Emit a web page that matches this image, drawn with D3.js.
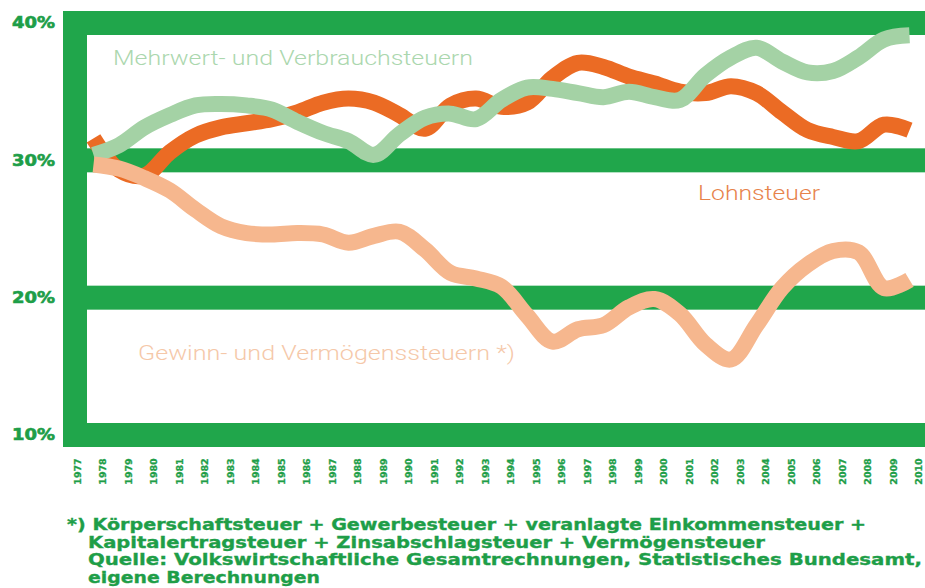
<!DOCTYPE html>
<html>
<head>
<meta charset="utf-8">
<script src="https://cdn.jsdelivr.net/npm/d3@7"></script>
<style>
  body { margin: 0; background: #fff; }
  svg { display: block; }
</style>
</head>
<body>
<svg id="chart" width="925" height="588"></svg>
<script>
// jahre und werte (anteil am steueraufkommen, %)
const years = d3.range(1977, 2011);
const lineYears = d3.range(1978, 2011);

const lohnsteuer = [31.6, 29.3, 28.9, 30.6, 31.8, 32.4, 32.7, 33.0, 33.5, 34.2, 34.5, 34.2, 33.3, 32.3, 34.0,
    34.5, 33.9, 34.2, 36.0, 37.1, 36.8, 36.1, 35.6, 35.0, 34.9, 35.4, 34.9, 33.5, 32.2, 31.7, 31.4, 32.6, 32.2];

const mehrwert = [30.4, 31.1, 32.4, 33.3, 34.0, 34.1, 34.0, 33.7, 32.8, 32.0, 31.4, 30.4, 31.9, 33.1, 33.4,
    33.0, 34.4, 35.3, 35.2, 34.9, 34.6, 35.0, 34.6, 34.4, 36.2, 37.5, 38.2, 37.2, 36.4, 36.5, 37.5, 38.8, 39.1];

const gewinn = [29.7, 29.4, 28.7, 27.8, 26.4, 25.2, 24.7, 24.6, 24.7, 24.6, 24.0, 24.5, 24.8, 23.5, 21.8,
    21.4, 20.8, 18.7, 16.8, 17.7, 18.0, 19.3, 19.9, 18.8, 16.6, 15.5, 18.0, 20.7, 22.4, 23.4, 23.3, 20.7, 21.3];

const yTicks = [10, 20, 30, 40];

const series = [
    { name: "Lohnsteuer", values: lohnsteuer, color: "#eb6b24" },
    { name: "Mehrwert- und Verbrauchsteuern", values: mehrwert, color: "#a4d2a5" },
    { name: "Gewinn- und Vermögenssteuern *)", values: gewinn, color: "#f6b78e" }
];

const footnote = [
    "*) Körperschaftsteuer + Gewerbesteuer + veranlagte Einkommensteuer +",
    "Kapitalertragsteuer + Zinsabschlagsteuer + Vermögensteuer",
    "Quelle: Volkswirtschaftliche Gesamtrechnungen, Statistisches Bundesamt,",
    "eigene Berechnungen"
];

const frameGreen = "#20a64b";
const textGreen = "#1e9e48";

const svg = d3.select("#chart");

const x = d3.scaleLinear().domain([1977, 2010]).range([68, 909.5]);
const y = d3.scaleLinear().domain([10, 40]).range([435, 23]);

const band = 24;

// gruener rahmen
const frame = svg.append("g");
frame.selectAll("rect.hbar")
    .data(yTicks)
    .join("rect")
    .attr("class", "hbar")
    .attr("x", 63)
    .attr("y", d => y(d) - band / 2)
    .attr("width", 925 - 63)
    .attr("height", band)
    .attr("fill", frameGreen);

frame.append("rect")
    .attr("x", 63)
    .attr("y", y(40) - band / 2)
    .attr("width", band)
    .attr("height", y(10) - y(40) + band)
    .attr("fill", frameGreen);

// y achse
const yAxis = svg.append("g")
    .attr("transform", "translate(55,0)")
    .call(d3.axisLeft(y).tickValues(yTicks).tickFormat(d => d + "%").tickSize(0));
yAxis.select(".domain").remove();
yAxis.selectAll("text")
    .attr("x", 0)
    .attr("fill", textGreen)
    .attr("stroke", textGreen)
    .attr("stroke-width", 0.6)
    .attr("textLength", 43)
    .attr("lengthAdjust", "spacingAndGlyphs")
    .style("font-family", "DejaVu Sans")
    .style("font-weight", "bold")
    .style("font-size", "15px");

// x achse
const xAxis = svg.append("g")
    .attr("transform", "translate(9,471.5)")
    .call(d3.axisBottom(x).tickValues(years).tickFormat(d3.format("d")).tickSize(0));
xAxis.select(".domain").remove();
xAxis.selectAll("text")
    .attr("y", 0)
    .attr("dy", "0.35em")
    .attr("text-anchor", "middle")
    .attr("transform", "rotate(-90)")
    .attr("fill", textGreen)
    .attr("stroke", textGreen)
    .attr("stroke-width", 0.3)
    .style("font-family", "DejaVu Sans")
    .style("font-weight", "bold")
    .style("font-size", "9.5px");

// linien
const line = d3.line()
    .x((d, i) => x(lineYears[i]))
    .y(d => y(d))
    .curve(d3.curveCatmullRom.alpha(0.5));

svg.append("g")
    .selectAll("path")
    .data(series)
    .join("path")
    .attr("d", d => line(d.values))
    .attr("fill", "none")
    .attr("stroke", d => d.color)
    .attr("stroke-width", 16)
    .attr("stroke-linejoin", "round");

// beschriftungen der reihen
const labels = [
    { text: series[1].name, x: 113, y: 65, w: 360, color: "#abd7ae" },
    { text: series[0].name, x: 698, y: 200, w: 122, color: "#e7834b" },
    { text: series[2].name, x: 138, y: 360, w: 377, color: "#f5c8a9" }
];

svg.append("g")
    .selectAll("text")
    .data(labels)
    .join("text")
    .attr("x", d => d.x)
    .attr("y", d => d.y)
    .attr("textLength", d => d.w)
    .attr("lengthAdjust", "spacingAndGlyphs")
    .attr("fill", d => d.color)
    .style("font-family", "Roboto")
    .style("font-weight", 300)
    .style("font-size", "21px")
    .text(d => d.text);

// fussnote
const noteX = [67, 88, 88, 88];
const noteW = [799, 677, 834, 232];

svg.append("g")
    .selectAll("text")
    .data(footnote)
    .join("text")
    .attr("x", (d, i) => noteX[i])
    .attr("y", (d, i) => 530 + i * 17.6)
    .attr("textLength", (d, i) => noteW[i])
    .attr("lengthAdjust", "spacingAndGlyphs")
    .attr("fill", textGreen)
    .attr("stroke", textGreen)
    .attr("stroke-width", 0.35)
    .style("font-family", "DejaVu Sans")
    .style("font-weight", "bold")
    .style("font-size", "16.5px")
    .text(d => d);
</script>
</body>
</html>
